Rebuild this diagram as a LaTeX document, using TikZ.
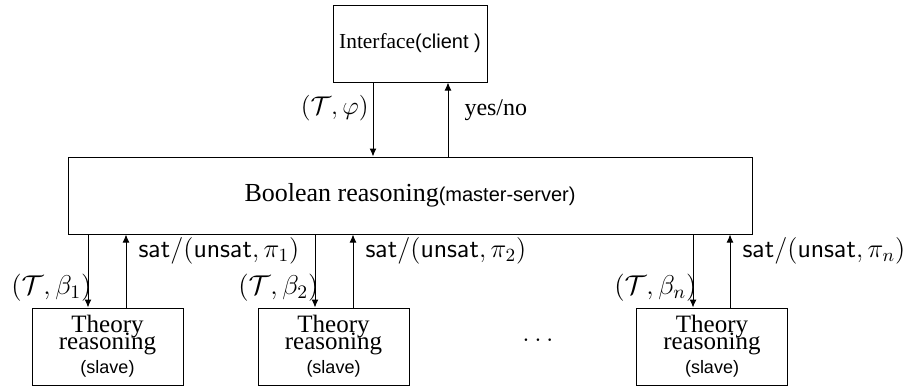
\RequirePackage{fix-cm}
\documentclass[tikz,border=0pt]{standalone}
\usepackage[no-math]{fontspec}
\setmainfont{Liberation Serif}
\setsansfont{Liberation Sans}
\usetikzlibrary{%
  calc,
  arrows.meta
}
\newcommand{\Tcal}{\ensuremath{\mathcal{T}}}
\newcommand{\satres}[1]{\ensuremath{\mathsf{sat}/(\mathsf{unsat},\pi_{#1})}}

\begin{document}
\begin{tikzpicture}[x=0.5pt, y=-0.5pt, line width=0.5pt,
    >={Latex[length=4pt, width=3.5pt]},
    box/.style={draw, inner sep=0pt, minimum height=38.5pt},
    theorybox/.style={box, minimum width=75.5pt, align=center,
      font=\fontsize{12.5}{15}\selectfont},
    mathlbl/.style={font=\fontsize{13.6}{16}\selectfont},
    satlbl/.style={font=\fontsize{13.3}{15}\selectfont, right, inner sep=6pt}]
    \useasboundingbox (0,0) rectangle (909,386);

    \node [box, minimum width=77pt] (iface) at (410, 43.5)
          {{\fontsize{10.7}{12}\selectfont Interface}{\sffamily(client )}};
    \node [box, minimum width=342pt] (bool) at (410, 195.5)
          {\fontsize{13}{15}\selectfont Boolean reasoning%
           {\fontsize{10}{12}\selectfont\sffamily(master-server)}};

    \node [theorybox] (th1) at (107.5, 346.5)
          {Theory\\[-6.5pt]reasoning\\[-3pt]{\fontsize{9}{11}\selectfont\sffamily(slave)}};
    \node [theorybox] (th2) at (333.5, 346.5)
          {Theory\\[-6.5pt]reasoning\\[-3pt]{\fontsize{9}{11}\selectfont\sffamily(slave)}};
    \node [theorybox] (thn) at (712.0, 346.5)
          {Theory\\[-6.5pt]reasoning\\[-3pt]{\fontsize{9}{11}\selectfont\sffamily(slave)}};
    \node [mathlbl] (dots) at (538, 340) {$\dots$};

    \coordinate (qry)  at (373, 0);
    \coordinate (ans)  at (448, 0);
    \coordinate (dn1)  at ( 88, 0);
    \coordinate (up1)  at (126, 0);
    \coordinate (dn2)  at (315, 0);
    \coordinate (up2)  at (353, 0);
    \coordinate (dnn)  at (693, 0);
    \coordinate (upn)  at (730, 0);

    \draw [->] (iface.south -| qry) -- (bool.north -| qry)
          node [pos=0.35, left, inner sep=2pt,
                font=\fontsize{12.8}{15}\selectfont] {$(\Tcal,\varphi)$};
    \draw [->] (bool.north -| ans) -- (iface.south -| ans)
          node [pos=0.62, right=7pt, inner sep=1pt,
                font=\fontsize{12}{14}\selectfont] {yes/no};

    \draw [->] (bool.south -| dn1) -- (th1.north -| dn1)
          node [mathlbl, pos=0.73, left, inner sep=0pt, xshift=2pt] {$(\Tcal,\beta_1)$};
    \draw [->] (th1.north -| up1) -- (bool.south -| up1)
          node [satlbl, pos=0.78] {\satres{1}};
    \draw [->] (bool.south -| dn2) -- (th2.north -| dn2)
          node [mathlbl, pos=0.73, left, inner sep=0pt, xshift=2pt] {$(\Tcal,\beta_2)$};
    \draw [->] (th2.north -| up2) -- (bool.south -| up2)
          node [satlbl, pos=0.78] {\satres{2}};
    \draw [->] (bool.south -| dnn) -- (thn.north -| dnn)
          node [mathlbl, pos=0.73, left, inner sep=0pt, xshift=2pt] {$(\Tcal,\beta_n)$};
    \draw [->] (thn.north -| upn) -- (bool.south -| upn)
          node [satlbl, pos=0.78] {\satres{n}};
\end{tikzpicture}
\end{document}
